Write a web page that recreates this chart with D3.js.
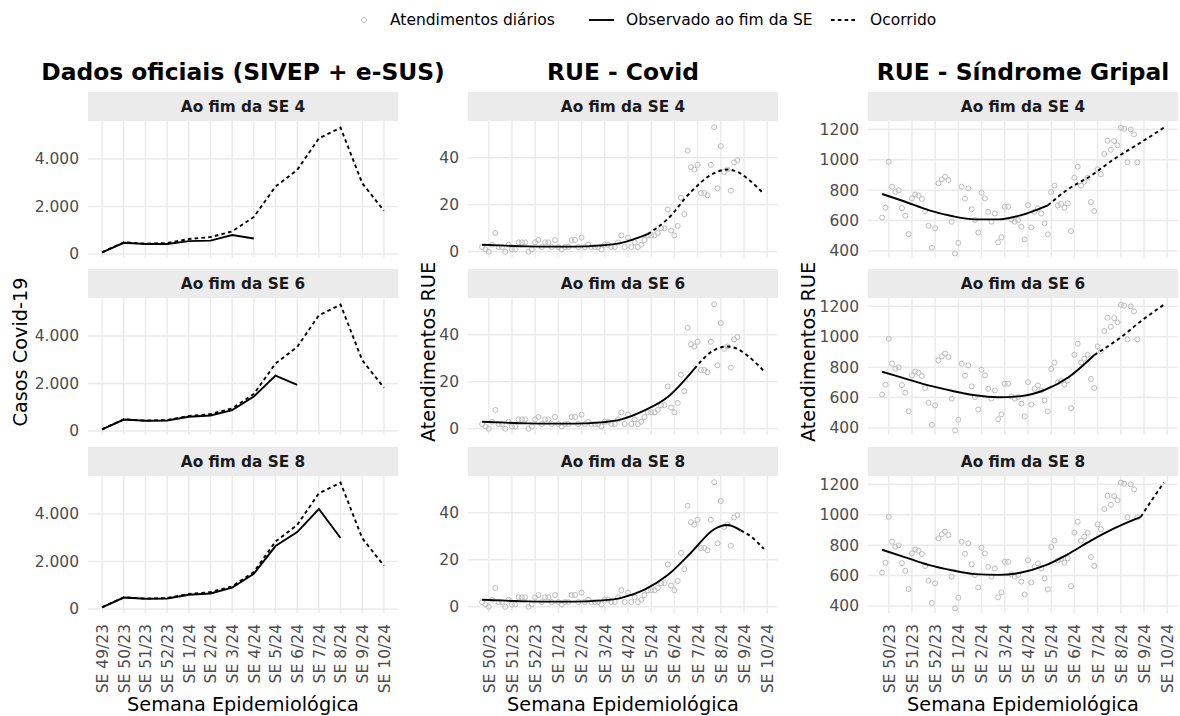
<!DOCTYPE html>
<html lang="pt-BR">
<head>
<meta charset="utf-8">
<title>Casos Covid-19 e atendimentos RUE</title>
<script src="https://d3js.org/d3.v7.min.js"></script>
<style>
  body { margin: 0; background: #fff; }
  svg { font-family: "DejaVu Sans", sans-serif; }
</style>
</head>
<body>
<div id="chart"></div>
<script>
// semanas epidemiológicas (eixo x)
const semanasOficial = ["SE 49/23", "SE 50/23", "SE 51/23", "SE 52/23", "SE 1/24", "SE 2/24", "SE 3/24",
  "SE 4/24", "SE 5/24", "SE 6/24", "SE 7/24", "SE 8/24", "SE 9/24", "SE 10/24"];
const semanasRue = ["SE 50/23", "SE 51/23", "SE 52/23", "SE 1/24", "SE 2/24", "SE 3/24", "SE 4/24",
  "SE 5/24", "SE 6/24", "SE 7/24", "SE 8/24", "SE 9/24", "SE 10/24"];
// dia (a partir do primeiro registro) em que começa cada semana
const diasInicioSemana = [2, 9, 16, 23, 30, 37, 44, 51, 58, 65, 72, 79, 86];

const paineis = ["Ao fim da SE 4", "Ao fim da SE 6", "Ao fim da SE 8"];

// Dados oficiais (casos por semana)
const casosOcorridos = [70, 490, 434, 460, 630, 710, 950, 1560, 2840, 3540, 4870, 5320, 2980, 1820];
const casosFimSE4 = [70, 470, 420, 420, 540, 560, 800, 650];
const casosFimSE6 = [70, 480, 430, 440, 600, 650, 880, 1450, 2330, 1940];
const casosFimSE8 = [70, 480, 430, 440, 600, 650, 900, 1480, 2650, 3240, 4210, 2990];

// RUE - atendimentos diários
const atendCovid = [2, 1, 0, 3, 8, 2, 2, 0, 3, 1,
  1, 4, 4, 4, 0, 1, 4, 5, 2, 4,
  4, 2, 5, 2, 1, 2, 2, 5, 5, 2,
  6, 2, 3, 2, 2, 2, 1, 3, 3, 2,
  2, 4, 7, 2, 6, 2, 4, 2, 3, 5,
  7, 7, 7, 8, 10, 10, 18, 9, 7, 11,
  23, 16, 43, 36, 35, 37, 25, 25, 24, 37,
  53, 27, 45, 34, 35, 26, 38, 39];
const atendGripal = [620, 685, 987, 823, 790, 799, 682, 632, 511, 746,
  772, 764, 742, 663, 566, 421, 549, 845, 871, 889,
  867, 593, 384, 454, 823, 744, 812, 674, 604, 522,
  783, 746, 658, 593, 647, 457, 490, 691, 691, 608,
  593, 604, 560, 476, 702, 555, 658, 680, 647, 582,
  509, 788, 830, 700, 709, 685, 713, 531, 882, 954,
  830, 856, 882, 722, 663, 937, 904, 1038, 1125, 1066,
  1123, 1095, 1211, 1204, 983, 1200, 1167, 983];

const diasFimSE4 = [0, 7, 14, 21, 28, 35, 42, 50];
const diasFimSE6 = [0, 7, 14, 21, 28, 35, 42, 49, 56, 64];
const diasFimSE8 = [0, 7, 14, 21, 28, 35, 42, 49, 56, 63, 70, 74, 78];
const diasOcorSE4 = [50, 56, 63, 70, 74, 77, 81, 85];
const diasOcorSE6 = [64, 70, 74, 77, 81, 85];
const diasOcorSE8 = [78, 81, 85];

const covidFimSE4 = [3, 2.6, 2.3, 2.2, 2.2, 2.6, 3.8, 7.5];
const covidFimSE6 = [3, 2.6, 2.3, 2.2, 2.2, 2.6, 4, 7.8, 13.5, 25.5];
const covidFimSE8 = [3, 2.6, 2.3, 2.2, 2.2, 2.6, 3.8, 7.3, 13.5, 23, 33, 34.8, 32.5];
const covidOcorSE4 = [7.5, 14, 25.5, 33.5, 35, 34, 30, 24.6];
const covidOcorSE6 = [25.5, 33.5, 35, 34, 30, 24.6];
const covidOcorSE8 = [32.5, 30, 24.6];

const gripalFimSE4 = [775, 724, 669, 630, 608, 608, 636, 700];
const gripalFimSE6 = [770, 725, 680, 645, 615, 602, 610, 650, 730, 880];
const gripalFimSE8 = [770, 720, 670, 635, 610, 605, 620, 665, 740, 830, 910, 950, 985];
const gripalOcorSE4 = [700, 805, 895, 1005, 1060, 1100, 1155, 1211];
const gripalOcorSE6 = [880, 965, 1030, 1085, 1150, 1211];
const gripalOcorSE8 = [985, 1085, 1211];

// layout
const W = 1180, H = 716;
const colX = [88, 468, 868], panelW = 310;
const stripTop = [92, 269, 447], stripH = 29, panelH = 137;
const espessura = 1.9;
const tracejado = "3.6,3.2";

const fmtBR = d3.formatLocale({ decimal: ",", thousands: ".", grouping: [3], currency: ["R$ ", ""] }).format(",d");

const svg = d3.select("#chart").append("svg")
  .attr("width", W).attr("height", H);

const xSemana = d3.scaleLinear().domain([-0.65, 13.65]).range([0, panelW]);
const xDia = d3.scaleLinear().domain([-4.25, 89.25]).range([0, panelW]);

const colunas = [
  {
    titulo: "Dados oficiais (SIVEP + e-SUS)", yTitulo: "Casos Covid-19", yTituloX: 20,
    x: xSemana, xTicks: d3.range(semanasOficial.length), xLabels: semanasOficial,
    y: d3.scaleLinear().domain([-170, 5600]).range([panelH, 0]),
    yTicks: [0, 2000, 4000], fmt: fmtBR
  },
  {
    titulo: "RUE - Covid", yTitulo: "Atendimentos RUE", yTituloX: 428,
    x: xDia, xTicks: diasInicioSemana, xLabels: semanasRue,
    y: d3.scaleLinear().domain([-2.65, 55.65]).range([panelH, 0]),
    yTicks: [0, 20, 40], fmt: d3.format("d"),
    pontos: atendCovid,
    observado: [[diasFimSE4, covidFimSE4], [diasFimSE6, covidFimSE6], [diasFimSE8, covidFimSE8]],
    ocorrido: [[diasOcorSE4, covidOcorSE4], [diasOcorSE6, covidOcorSE6], [diasOcorSE8, covidOcorSE8]]
  },
  {
    titulo: "RUE - Síndrome Gripal", yTitulo: "Atendimentos RUE", yTituloX: 808,
    x: xDia, xTicks: diasInicioSemana, xLabels: semanasRue,
    y: d3.scaleLinear().domain([354, 1255]).range([panelH, 0]),
    yTicks: [400, 600, 800, 1000, 1200], fmt: d3.format("d"),
    pontos: atendGripal,
    observado: [[diasFimSE4, gripalFimSE4], [diasFimSE6, gripalFimSE6], [diasFimSE8, gripalFimSE8]],
    ocorrido: [[diasOcorSE4, gripalOcorSE4], [diasOcorSE6, gripalOcorSE6], [diasOcorSE8, gripalOcorSE8]]
  }
];
const casosObservados = [casosFimSE4, casosFimSE6, casosFimSE8];

const cinzaGrade = "#ebebeb";
const corTexto = "#4d4d4d";
const corPonto = "#bdbdbd";

colunas.forEach((col, c) => {
  const cx = colX[c];

  // título da coluna
  svg.append("text")
    .attr("x", cx + panelW / 2).attr("y", 80)
    .attr("text-anchor", "middle")
    .style("font-size", "23.4px").style("font-weight", "bold").attr("fill", "#000")
    .text(col.titulo);

  // título do eixo y
  svg.append("text")
    .attr("transform", `translate(${col.yTituloX},352) rotate(-90)`)
    .attr("text-anchor", "middle").attr("dominant-baseline", "central")
    .style("font-size", "19.3px").attr("fill", "#000")
    .text(col.yTitulo);

  // título do eixo x
  svg.append("text")
    .attr("x", cx + panelW / 2).attr("y", 711)
    .attr("text-anchor", "middle")
    .style("font-size", "19.3px").attr("fill", "#000")
    .text("Semana Epidemiológica");

  paineis.forEach((nome, r) => {
    // faixa
    svg.append("rect")
      .attr("x", cx).attr("y", stripTop[r]).attr("width", panelW).attr("height", stripH)
      .attr("fill", "#ebebeb");
    svg.append("text")
      .attr("x", cx + panelW / 2).attr("y", stripTop[r] + stripH / 2)
      .attr("text-anchor", "middle").attr("dominant-baseline", "central")
      .style("font-size", "15.3px").style("font-weight", "bold").attr("fill", "#1a1a1a")
      .text(nome);

    const g = svg.append("g").attr("transform", `translate(${cx},${stripTop[r] + stripH})`);

    // grade
    g.append("g").selectAll("line").data(col.yTicks).join("line")
      .attr("x1", 0).attr("x2", panelW)
      .attr("y1", d => col.y(d)).attr("y2", d => col.y(d))
      .attr("stroke", cinzaGrade).attr("stroke-width", 1.5);
    g.append("g").selectAll("line").data(col.xTicks).join("line")
      .attr("x1", d => col.x(d)).attr("x2", d => col.x(d))
      .attr("y1", 0).attr("y2", panelH)
      .attr("stroke", cinzaGrade).attr("stroke-width", 1.5);

    // eixo y
    const yAxis = d3.axisLeft(col.y).tickValues(col.yTicks).tickFormat(col.fmt).tickSize(0).tickPadding(9);
    g.append("g").call(yAxis)
      .call(s => s.select(".domain").remove())
      .call(s => s.selectAll("text").attr("fill", corTexto).style("font-size", "15.5px")
        .style("font-family", "DejaVu Sans, sans-serif"));

    // eixo x só na última linha
    if (r === paineis.length - 1) {
      const xAxis = d3.axisBottom(col.x).tickValues(col.xTicks)
        .tickFormat((d, i) => col.xLabels[i]).tickSize(0);
      g.append("g").attr("transform", `translate(0,${panelH})`).call(xAxis)
        .call(s => s.select(".domain").remove())
        .call(s => s.selectAll("text")
          .attr("transform", "rotate(-90)")
          .attr("x", -11).attr("y", 0).attr("dy", "0.35em")
          .attr("text-anchor", "end")
          .attr("fill", corTexto).style("font-size", "15.5px")
          .style("font-family", "DejaVu Sans, sans-serif"));
    }

    if (c === 0) {
      const linha = d3.line().x((d, i) => col.x(i)).y(d => col.y(d));
      g.append("path").datum(casosOcorridos)
        .attr("d", linha).attr("fill", "none")
        .attr("stroke", "#000").attr("stroke-width", espessura).attr("stroke-dasharray", tracejado);
      g.append("path").datum(casosObservados[r])
        .attr("d", linha).attr("fill", "none")
        .attr("stroke", "#000").attr("stroke-width", espessura);
    } else {
      // pontos diários
      g.append("g").selectAll("circle").data(col.pontos).join("circle")
        .attr("cx", (d, i) => col.x(i)).attr("cy", d => col.y(d))
        .attr("r", 2.5).attr("fill", "none")
        .attr("stroke", corPonto).attr("stroke-width", 1);

      const curva = d3.line().curve(d3.curveMonotoneX)
        .x(d => col.x(d[0])).y(d => col.y(d[1]));

      const [diasO, valsO] = col.ocorrido[r];
      g.append("path").datum(d3.zip(diasO, valsO))
        .attr("d", curva).attr("fill", "none")
        .attr("stroke", "#000").attr("stroke-width", espessura).attr("stroke-dasharray", tracejado);
      const [dias, vals] = col.observado[r];
      g.append("path").datum(d3.zip(dias, vals))
        .attr("d", curva).attr("fill", "none")
        .attr("stroke", "#000").attr("stroke-width", espessura);
    }
  });
});

// legenda
const leg = svg.append("g").attr("transform", "translate(0,20)");
leg.append("circle").attr("cx", 364).attr("cy", 0).attr("r", 2.5)
  .attr("fill", "none").attr("stroke", corPonto).attr("stroke-width", 1);
leg.append("line").attr("x1", 589).attr("x2", 614).attr("y1", 0).attr("y2", 0)
  .attr("stroke", "#000").attr("stroke-width", espessura);
leg.append("line").attr("x1", 831).attr("x2", 856).attr("y1", 0).attr("y2", 0)
  .attr("stroke", "#000").attr("stroke-width", espessura).attr("stroke-dasharray", tracejado);
leg.selectAll("text")
  .data([[390, "Atendimentos diários"], [626, "Observado ao fim da SE"], [870, "Ocorrido"]])
  .join("text")
  .attr("x", d => d[0]).attr("y", 0).attr("dominant-baseline", "central")
  .style("font-size", "15.5px").attr("fill", "#000")
  .text(d => d[1]);
</script>
</body>
</html>
